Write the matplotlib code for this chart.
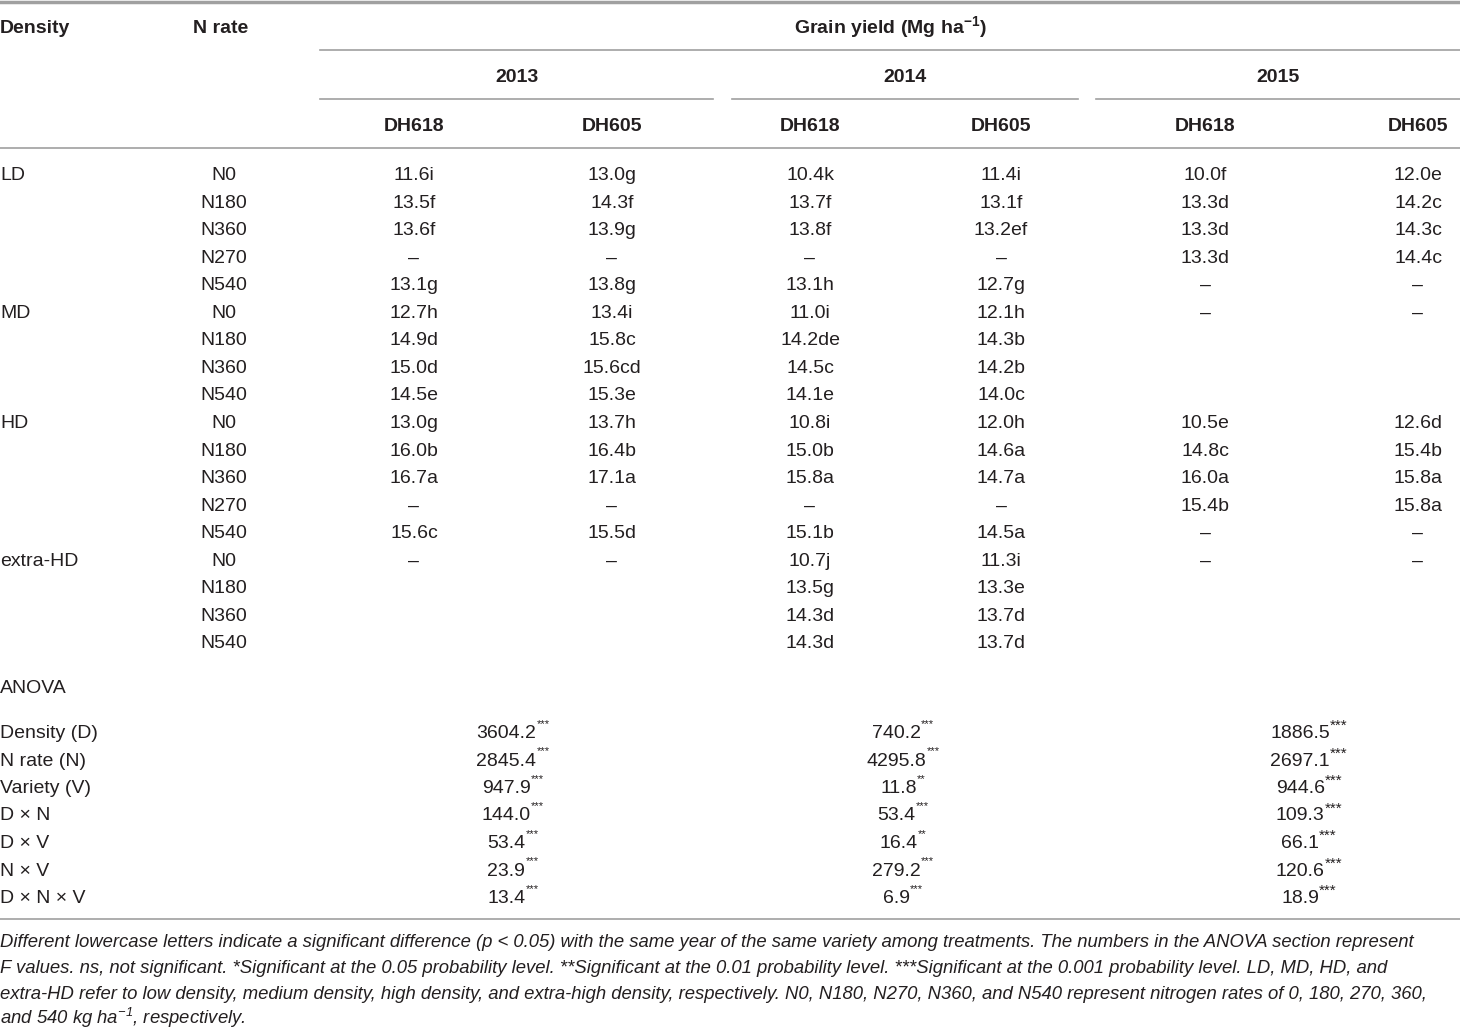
import matplotlib
matplotlib.use("Agg")
import matplotlib.pyplot as plt
from matplotlib import font_manager

names = {f.name for f in font_manager.fontManager.ttflist}
FONT = "Liberation Sans Narrow" if "Liberation Sans Narrow" in names else "Liberation Sans"
plt.rcParams["font.family"] = [FONT, "DejaVu Sans"]
plt.rcParams["mathtext.fontset"] = "custom"
plt.rcParams["mathtext.rm"] = FONT
plt.rcParams["mathtext.it"] = FONT + ":italic"
plt.rcParams["mathtext.bf"] = FONT + ":bold"
plt.rcParams["mathtext.default"] = "regular"

# table content
years = ["2013", "2014", "2015"]
varieties = ["DH618", "DH605"] * 3
densities = ["LD", "MD", "HD", "extra-HD"]
n_rates = [
    ["N0", "N180", "N360", "N270", "N540"],
    ["N0", "N180", "N360", "N540"],
    ["N0", "N180", "N360", "N270", "N540"],
    ["N0", "N180", "N360", "N540"],
]
yields = [
    # LD
    ["11.6i", "13.0g", "10.4k", "11.4i", "10.0f", "12.0e"],
    ["13.5f", "14.3f", "13.7f", "13.1f", "13.3d", "14.2c"],
    ["13.6f", "13.9g", "13.8f", "13.2ef", "13.3d", "14.3c"],
    ["–", "–", "–", "–", "13.3d", "14.4c"],
    ["13.1g", "13.8g", "13.1h", "12.7g", "–", "–"],
    # MD
    ["12.7h", "13.4i", "11.0i", "12.1h", "–", "–"],
    ["14.9d", "15.8c", "14.2de", "14.3b", "", ""],
    ["15.0d", "15.6cd", "14.5c", "14.2b", "", ""],
    ["14.5e", "15.3e", "14.1e", "14.0c", "", ""],
    # HD
    ["13.0g", "13.7h", "10.8i", "12.0h", "10.5e", "12.6d"],
    ["16.0b", "16.4b", "15.0b", "14.6a", "14.8c", "15.4b"],
    ["16.7a", "17.1a", "15.8a", "14.7a", "16.0a", "15.8a"],
    ["–", "–", "–", "–", "15.4b", "15.8a"],
    ["15.6c", "15.5d", "15.1b", "14.5a", "–", "–"],
    # extra-HD
    ["–", "–", "10.7j", "11.3i", "–", "–"],
    ["", "", "13.5g", "13.3e", "", ""],
    ["", "", "14.3d", "13.7d", "", ""],
    ["", "", "14.3d", "13.7d", "", ""],
]
anova_terms = ["Density (D)", "N rate (N)", "Variety (V)", "D × N", "D × V", "N × V", "D × N × V"]
anova_2013 = ["3604.2", "2845.4", "947.9", "144.0", "53.4", "23.9", "13.4"]
sig_2013 = ["***"] * 7
anova_2014 = ["740.2", "4295.8", "11.8", "53.4", "16.4", "279.2", "6.9"]
sig_2014 = ["***", "***", "**", "***", "**", "***", "***"]
anova_2015 = ["1886.5", "2697.1", "944.6", "109.3", "66.1", "120.6", "18.9"]
sig_2015 = ["***"] * 7
footnote = [
    "Different lowercase letters indicate a significant difference (p < 0.05) with the same year of the same variety among treatments. The numbers in the ANOVA section represent",
    "F values. ns, not significant. *Significant at the 0.05 probability level. **Significant at the 0.01 probability level. ***Significant at the 0.001 probability level. LD, MD, HD, and",
    "extra-HD refer to low density, medium density, high density, and extra-high density, respectively. N0, N180, N270, N360, and N540 represent nitrogen rates of 0, 180, 270, 360,",
    "and 540 kg ha$^{-1}$, respectively.",
]

fig = plt.figure(figsize=(14.6, 10.28), dpi=100)
ax = fig.add_axes([0, 0, 1, 1])
ax.set_xlim(0, 1460)
ax.set_ylim(1028, 0)
ax.axis("off")
rend = fig.canvas.get_renderer()

fs = 14
col = "#231f20"
lc = "#a0a0a0"
BL = 7  # baseline offset below the visual centre of a row


def put(x, yc, s, ha="left", **kw):
    return ax.text(x, yc + BL, s, fontsize=kw.pop("size", fs), color=col,
                   va="baseline", ha=ha, **kw)


# rules
ax.plot([0, 1460], [2, 2], color=lc, lw=2.5)
ax.plot([320, 1460], [50, 50], color=lc, lw=1.2)
for x0, x1 in [(320, 713), (732, 1078), (1096, 1460)]:
    ax.plot([x0, x1], [99, 99], color=lc, lw=1.2)
ax.plot([0, 1460], [148, 148], color=lc, lw=1.2)
ax.plot([0, 1460], [919, 919], color=lc, lw=1.2)

# header
put(0, 26, "Density", fontweight="bold")
put(193, 26, "N rate", fontweight="bold")
put(890, 26, r"Grain yield (Mg ha$^{\mathbf{-1}}$)", ha="center", fontweight="bold")
year_x = [517, 905, 1278]
for yx, yr in zip(year_x, years):
    put(yx, 75, yr, ha="center", fontweight="bold")
data_x = [414, 612, 810, 1001, 1205, 1418]
for dx, v in zip(data_x, varieties):
    put(dx, 124, v, ha="center", fontweight="bold")

# body
row_y0, step = 173, 27.55
r = 0
for dens, rates in zip(densities, n_rates):
    for j, nr in enumerate(rates):
        y = row_y0 + r * step
        if j == 0:
            put(0, y, dens)
        put(224, y, nr, ha="center")
        for dx, val in zip(data_x, yields[r]):
            if val:
                put(dx, y, val, ha="center")
        r += 1

put(0, 686, "ANOVA")
anova_x = [513, 903, 1309]
sup_style = [(8, 11), (8, 11), (11, 8)]  # (size, rise)
for i, term in enumerate(anova_terms):
    y = 731 + i * 27.5
    put(0, y, term)
    for k, (cx, vals, sigs) in enumerate(zip(anova_x, [anova_2013, anova_2014, anova_2015],
                                             [sig_2013, sig_2014, sig_2015])):
        ssize, rise = sup_style[k]
        t1 = put(0, y, vals[i])
        t2 = ax.text(0, y + BL - rise, sigs[i], fontsize=ssize, color=col,
                     va="baseline", ha="left")
        w1 = t1.get_window_extent(rend).width
        w2 = t2.get_window_extent(rend).width
        left = cx - (w1 + w2) / 2
        t1.set_x(left)
        t2.set_x(left + w1)

for i, line in enumerate(footnote):
    ax.text(0, 947 + i * 25.8, line, fontsize=13.3, style="italic", color=col,
            va="baseline", ha="left")

fig.savefig("out.png", dpi=100)
